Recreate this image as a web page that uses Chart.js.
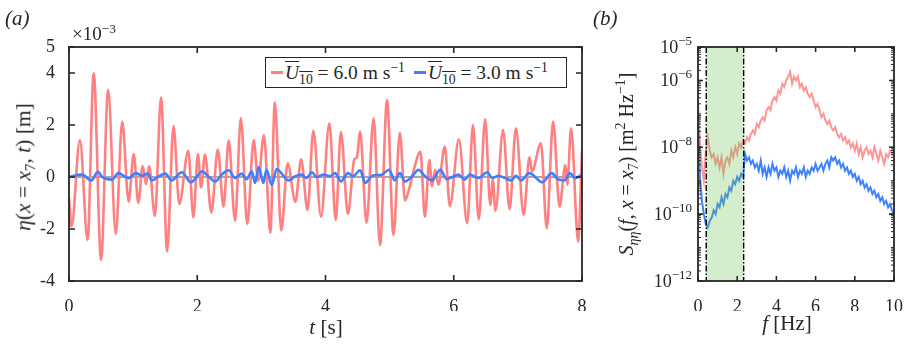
<!DOCTYPE html>
<html>
<head>
<meta charset="utf-8">
<script src="https://cdn.jsdelivr.net/npm/chart.js@4"></script>
<style>
  body { margin: 0; background: #fff; width: 911px; height: 345px; position: relative; overflow: hidden;
         font-family: 'Liberation Serif', 'Times New Roman', 'DejaVu Serif', serif; color: #262626; }
  canvas { position: absolute; top: 0; }
  .t { position: absolute; white-space: nowrap; font-size: 20px; line-height: 1; }
  .rot { transform: translate(-50%, -50%) rotate(-90deg); }
  .ctr { transform: translate(-50%, -50%); }
  sub, sup { font-size: 0.7em; line-height: 0; }
  .ov { text-decoration: overline; text-decoration-thickness: 1px; }
  #leg { position: absolute; left: 265px; top: 57px; width: 300px; height: 29px; border: 1.6px solid #262626;
         background: #fff; font-size: 19.5px; display: flex; align-items: center; white-space: nowrap; }
  .sw { display: inline-block; width: 12px; height: 2.6px; margin: 0 2px 0 5px; }
</style>
</head>
<body>
<canvas id="ca" width="600" height="345" style="left:0"></canvas>
<canvas id="cb" width="321" height="345" style="left:590px"></canvas>

<div class="t" style="left:5px;top:8px;font-size:21px"><i>(a)</i></div>
<div class="t" style="left:72px;top:24px;font-size:19px">×10<sup>−3</sup></div>
<div class="t rot" style="left:24px;top:167px;font-size:21.5px"><i>η</i>(<i>x</i> = <i>x</i><sub>7</sub>, <i>t</i>) [m]</div>
<div class="t ctr" style="left:326px;top:327px;font-size:21px"><i>t</i> [s]</div>
<div id="leg">
  <span class="sw" style="background:#ff8080"></span><span><span class="ov"><i>U</i><sub>10</sub></span> = 6.0 m s<sup>−1</sup></span>
  <span class="sw" style="background:#3d7fff;margin-left:9px"></span><span><span class="ov"><i>U</i><sub>10</sub></span> = 3.0 m s<sup>−1</sup></span>
</div>

<div class="t" style="left:593px;top:8px;font-size:21px"><i>(b)</i></div>
<div class="t rot" style="left:626px;top:164px"><i>S</i><sub><i>ηη</i></sub>(<i>f</i>, <i>x</i> = <i>x</i><sub>7</sub>) [m<sup>2</sup> Hz<sup>−1</sup>]</div>
<div class="t ctr" style="left:787px;top:323px;font-size:21px"><i>f</i> [Hz]</div>

<script>
// (a) surface elevation, units of 1e-3 m
const tRed = [0, 0.04, 0.17, 0.29, 0.385, 0.5, 0.61, 0.73, 0.83, 0.93, 1.01, 1.08, 1.15, 1.2, 1.25, 1.34, 1.435, 1.53, 1.63, 1.72,
  1.86, 1.94, 2.01, 2.06, 2.12, 2.22, 2.32, 2.41, 2.49, 2.59, 2.68, 2.78, 2.88, 2.95, 3.04, 3.14, 3.21, 3.31, 3.41, 3.53,
  3.62, 3.72, 3.81, 3.93, 4.06, 4.16, 4.24, 4.35, 4.45, 4.49, 4.54, 4.64, 4.75, 4.85, 4.96, 5.06, 5.16, 5.24, 5.3, 5.37,
  5.48, 5.55, 5.62, 5.66, 5.71, 5.76, 5.86, 5.94, 6.08, 6.21, 6.3, 6.39, 6.49, 6.57, 6.61, 6.65, 6.77, 6.87, 6.97, 7.09,
  7.18, 7.22, 7.36, 7.45, 7.55, 7.65, 7.74, 7.77, 7.83, 7.94, 8.0];
const etaRed = [-0.8, -1.9, 1.42, -2.42, 3.99, -3.19, 3.35, -2.19, 2.13, -0.95, 0.88, -0.99, 0.42, -0.27, 0.42, -1.5, 3.06, -2.86, 1.96, -1.04,
  1.01, -1.55, 0.88, -0.4, 0.86, -1.37, 1.06, -1.14, 1.4, -1.68, 2.26, -1.81, 1.42, -0.14, 1.6, -2.14, 2.86, -2.06, 0.53, -0.95,
  0.68, -1.27, 1.78, -1.53, 2.06, -1.65, 1.74, -1.42, 0.68, 0.75, 1.74, -1.76, 2.26, -2.62, 2.96, -2.23, 1.7, -0.9, -0.5, 0.2,
  0.97, -1.53, 0.65, -0.36, 0.28, -0.3, 1.17, -1.12, 1.45, -1.78, 2.0, -1.63, 2.22, -1.08, -0.1, -1.3, 1.81, -1.24, 1.87, -1.46,
  0.76, 0.22, 1.3, -1.97, 2.13, -1.14, 0.46, -0.3, 1.87, -2.49, 1.0];

const tBlue = [0, 0.2, 0.35, 0.45, 0.52, 0.67, 0.77, 0.93, 1.04, 1.14, 1.23, 1.29, 1.42, 1.5, 1.6, 1.76, 1.9, 2.02, 2.07, 2.17,
  2.28, 2.38, 2.49, 2.59, 2.69, 2.77, 2.85, 2.9, 2.96, 3.03, 3.08, 3.16, 3.24, 3.33, 3.42, 3.53, 3.63, 3.7, 3.79, 3.86,
  3.97, 4.07, 4.15, 4.24, 4.35, 4.43, 4.54, 4.62, 4.73, 4.88, 4.99, 5.08, 5.16, 5.24, 5.36, 5.45, 5.55, 5.66, 5.79, 5.89,
  5.98, 6.07, 6.17, 6.25, 6.39, 6.52, 6.6, 6.7, 6.8, 6.9, 6.97, 7.05, 7.18, 7.38, 7.53, 7.62, 7.73, 7.81, 7.89, 8.0];
const etaBlue = [0.0, 0.09, -0.13, 0.2, 0.0, -0.1, 0.15, -0.05, 0.15, 0.05, 0.13, -0.13, 0.05, 0.13, -0.13, 0.18, -0.2, 0.09, 0.22, 0.03,
  -0.17, 0.09, 0.26, -0.04, 0.13, -0.08, 0.22, -0.23, 0.38, -0.23, 0.28, -0.3, 0.31, 0.09, -0.13, 0.03, 0.09, -0.04, 0.18, 0.0,
  0.09, 0.03, 0.15, -0.17, 0.15, 0.03, 0.26, -0.23, 0.05, 0.09, 0.28, -0.13, 0.15, -0.17, 0.05, 0.28, 0.03, -0.13, 0.28, -0.08,
  0.0, 0.09, -0.1, 0.09, -0.04, 0.18, -0.04, 0.05, -0.04, -0.13, 0.05, -0.13, 0.15, -0.2, 0.15, -0.08, -0.13, 0.15, -0.04, 0.09];

const zeroT = [0, 8];
const zeroEta = [0, 0];

// (b) spectra
const freq = [0, 0.1, 0.2, 0.3, 0.4, 0.5, 0.6, 0.7, 0.8, 0.9, 1.0, 1.1, 1.2, 1.3, 1.4, 1.5, 1.6, 1.7, 1.8, 1.9,
  2.0, 2.1, 2.2, 2.3, 2.4, 2.5, 2.6, 2.7, 2.8, 2.9, 3.0, 3.1, 3.2, 3.3, 3.4, 3.5, 3.6, 3.7, 3.8, 3.9,
  4.0, 4.1, 4.2, 4.3, 4.4, 4.5, 4.6, 4.7, 4.8, 4.9, 5.0, 5.1, 5.2, 5.3, 5.4, 5.5, 5.6, 5.7, 5.8, 5.9,
  6.0, 6.1, 6.2, 6.3, 6.4, 6.5, 6.6, 6.7, 6.8, 6.9, 7.0, 7.1, 7.2, 7.3, 7.4, 7.5, 7.6, 7.7, 7.8, 7.9,
  8.0, 8.1, 8.2, 8.3, 8.4, 8.5, 8.6, 8.7, 8.8, 8.9, 9.0, 9.1, 9.2, 9.3, 9.4, 9.5, 9.6, 9.7, 9.8, 9.9, 10.0];
const specRed = [2.5e-7, 1.3e-8, 2.5e-9, 1.0e-9, 7.9e-9, 2.0e-8, 7.9e-9, 5.0e-9, 6.3e-9, 3.2e-9, 5.0e-9, 2.5e-9, 5.0e-9, 1.6e-9, 4.0e-9, 5.0e-9, 3.2e-9, 7.9e-9, 5.0e-9, 1.0e-8,
  6.3e-9, 1.3e-8, 1.0e-8, 1.6e-8, 1.3e-8, 2.0e-8, 1.6e-8, 2.5e-8, 3.2e-8, 2.5e-8, 5.0e-8, 4.0e-8, 6.3e-8, 7.9e-8, 6.3e-8, 1.3e-7, 1.6e-7, 1.3e-7, 2.5e-7, 3.2e-7,
  2.5e-7, 5.0e-7, 4.0e-7, 7.9e-7, 6.3e-7, 1.0e-6, 1.3e-6, 1.8e-6, 7.9e-7, 1.3e-6, 1.0e-6, 1.3e-6, 6.3e-7, 7.9e-7, 5.0e-7, 6.3e-7, 4.0e-7, 3.2e-7, 4.0e-7, 2.5e-7,
  1.6e-7, 2.0e-7, 1.3e-7, 7.9e-8, 1.0e-7, 6.3e-8, 5.0e-8, 6.3e-8, 4.0e-8, 3.2e-8, 4.0e-8, 2.5e-8, 2.0e-8, 2.5e-8, 1.6e-8, 2.0e-8, 1.3e-8, 1.6e-8, 1.0e-8, 1.3e-8,
  7.9e-9, 1.3e-8, 6.3e-9, 1.0e-8, 5.0e-9, 7.9e-9, 1.0e-8, 6.3e-9, 7.9e-9, 5.0e-9, 1.0e-8, 6.3e-9, 4.0e-9, 7.9e-9, 5.0e-9, 3.2e-9, 6.3e-9, 5.0e-9, 7.9e-9, 6.3e-9, 7.9e-9];
const specBlue = [6.3e-8, 1.3e-9, 2.5e-10, 1.0e-10, 5.0e-11, 4.0e-11, 6.3e-11, 7.9e-11, 1.3e-10, 1.0e-10, 2.0e-10, 1.6e-10, 3.2e-10, 2.0e-10, 4.0e-10, 3.2e-10, 6.3e-10, 5.0e-10, 1.0e-9, 7.9e-10,
  1.3e-9, 1.0e-9, 1.6e-9, 1.3e-9, 6.3e-9, 4.0e-9, 5.0e-9, 3.2e-9, 4.0e-9, 2.5e-9, 3.2e-9, 2.0e-9, 4.0e-9, 1.6e-9, 2.5e-9, 1.3e-9, 2.5e-9, 1.6e-9, 3.2e-9, 2.0e-9,
  2.5e-9, 1.3e-9, 2.0e-9, 1.6e-9, 2.5e-9, 1.3e-9, 2.0e-9, 1.0e-9, 2.0e-9, 1.6e-9, 2.5e-9, 1.3e-9, 2.0e-9, 1.6e-9, 2.5e-9, 1.3e-9, 2.0e-9, 1.6e-9, 2.5e-9, 2.0e-9,
  3.2e-9, 2.0e-9, 2.5e-9, 3.2e-9, 2.0e-9, 3.2e-9, 4.0e-9, 2.5e-9, 5.0e-9, 4.0e-9, 5.0e-9, 3.2e-9, 4.0e-9, 2.5e-9, 3.2e-9, 2.0e-9, 2.5e-9, 1.6e-9, 2.0e-9, 1.3e-9,
  1.6e-9, 1.0e-9, 1.3e-9, 7.9e-10, 1.0e-9, 6.3e-10, 7.9e-10, 5.0e-10, 6.3e-10, 4.0e-10, 5.0e-10, 3.2e-10, 4.0e-10, 2.5e-10, 3.2e-10, 2.0e-10, 2.5e-10, 1.6e-10, 2.0e-10, 1.3e-10, 1.0e-10];

// shaded frequency band
const bandLo = 0.42;
const bandHi = 2.33;

const etaTicks = [-4, -2, 0, 2, 4, 5];
const tTicks = [0, 2, 4, 6, 8];
const fTicks = [0, 2, 4, 6, 8, 10];
const sTicks = [1e-12, 1e-10, 1e-8, 1e-6, 1e-5];

const INK = '#262626';
const SERIF = "'Liberation Serif', 'Times New Roman', 'DejaVu Serif', serif";
const FONT = { family: SERIF, size: 18 };

const pts = (xs, ys) => xs.map((x, i) => ({ x, y: ys[i] }));
const setTicks = list => s => { s.ticks = list.map(v => ({ value: v })); };

// box + inward ticks, like matlab "box on"
const framePlugin = {
  id: 'frame',
  afterDraw(chart, args, opts) {
    const { ctx, chartArea: a, scales: { x, y } } = chart;
    const L = opts.len || 6;
    ctx.save();
    ctx.strokeStyle = INK;
    ctx.lineWidth = 1.6;
    ctx.beginPath();
    x.ticks.forEach(t => {
      const p = x.getPixelForValue(t.value);
      ctx.moveTo(p, a.bottom); ctx.lineTo(p, a.bottom - L);
      ctx.moveTo(p, a.top); ctx.lineTo(p, a.top + L);
    });
    y.ticks.forEach(t => {
      const p = y.getPixelForValue(t.value);
      ctx.moveTo(a.left, p); ctx.lineTo(a.left + L, p);
      ctx.moveTo(a.right, p); ctx.lineTo(a.right - L, p);
    });
    ctx.stroke();
    if (opts.minor) {
      ctx.lineWidth = 1;
      ctx.beginPath();
      for (let k = -12; k < -5; k++) {
        for (let m = 1; m < 10; m++) {
          const p = y.getPixelForValue(m * Math.pow(10, k));
          ctx.moveTo(a.left, p); ctx.lineTo(a.left + 3, p);
          ctx.moveTo(a.right, p); ctx.lineTo(a.right - 3, p);
        }
      }
      ctx.stroke();
    }
    ctx.lineWidth = 1.8;
    ctx.strokeRect(a.left, a.top, a.width, a.height);
    ctx.restore();
  }
};

const bandPlugin = {
  id: 'band',
  afterDatasetsDraw(chart) {
    const { ctx, chartArea: a, scales: { x } } = chart;
    const x0 = x.getPixelForValue(bandLo);
    const x1 = x.getPixelForValue(bandHi);
    ctx.save();
    ctx.fillStyle = 'rgba(110,195,90,0.3)';
    ctx.fillRect(x0, a.top, x1 - x0, a.height);
    ctx.setLineDash([6, 2, 1.5, 2]);
    ctx.strokeStyle = '#000';
    ctx.lineWidth = 1.4;
    ctx.beginPath();
    ctx.moveTo(x0, a.top); ctx.lineTo(x0, a.bottom);
    ctx.moveTo(x1, a.top); ctx.lineTo(x1, a.bottom);
    ctx.stroke();
    ctx.restore();
  }
};

// 10^n labels with a raised exponent
const expLabels = {
  id: 'expLabels',
  afterDraw(chart) {
    const { ctx, chartArea: a, scales: { y } } = chart;
    ctx.save();
    ctx.fillStyle = INK;
    ctx.textBaseline = 'alphabetic';
    y.ticks.forEach(t => {
      const p = y.getPixelForValue(t.value);
      const ex = '−' + Math.abs(Math.round(Math.log10(t.value)));
      ctx.font = '13px ' + SERIF;
      const w = ctx.measureText(ex).width;
      const right = a.left - 6;
      ctx.textAlign = 'left';
      ctx.fillText(ex, right - w, p - 2);
      ctx.font = '18px ' + SERIF;
      ctx.textAlign = 'right';
      ctx.fillText('10', right - w, p + 6);
    });
    ctx.restore();
  }
};

const common = {
  responsive: false,
  animation: false,
  events: [],
  elements: { point: { radius: 0 } },
};

new Chart(document.getElementById('ca'), {
  type: 'line',
  data: {
    datasets: [
      { data: pts(tBlue, etaBlue), borderColor: '#3d7fff', borderWidth: 2.6, order: 0, cubicInterpolationMode: 'monotone' },
      { data: pts(tRed, etaRed), borderColor: '#ff8080', borderWidth: 2.6, order: 1, cubicInterpolationMode: 'monotone' },
      { data: pts(zeroT, zeroEta), borderColor: 'rgba(130,130,130,0.7)', borderWidth: 2.2, order: 2 }
    ]
  },
  options: {
    ...common,
    layout: { padding: { left: 29, right: 18, top: 47, bottom: 34 } },
    plugins: { legend: { display: false }, tooltip: { enabled: false }, frame: { len: 6 } },
    scales: {
      x: {
        type: 'linear', min: 0, max: 8,
        afterBuildTicks: setTicks(tTicks),
        afterFit: s => { s.height = 30; },
        grid: { display: false }, border: { display: false },
        ticks: { padding: 7, color: INK, font: FONT, maxRotation: 0, autoSkip: false }
      },
      y: {
        type: 'linear', min: -4, max: 5,
        afterBuildTicks: setTicks(etaTicks),
        afterFit: s => { s.width = 40; },
        grid: { display: false }, border: { display: false },
        ticks: { padding: 6, color: INK, font: FONT, autoSkip: false }
      }
    }
  },
  plugins: [framePlugin]
});

new Chart(document.getElementById('cb'), {
  type: 'line',
  data: {
    datasets: [
      { data: pts(freq, specBlue), borderColor: '#3f82ff', borderWidth: 2, order: 0 },
      { data: pts(freq, specRed), borderColor: '#ff9696', borderWidth: 2, order: 1 }
    ]
  },
  options: {
    ...common,
    layout: { padding: { left: 58, right: 17, top: 47, bottom: 34 } },
    plugins: { legend: { display: false }, tooltip: { enabled: false }, frame: { len: 5, minor: true } },
    scales: {
      x: {
        type: 'linear', min: 0, max: 10,
        afterBuildTicks: setTicks(fTicks),
        afterFit: s => { s.height = 30; },
        grid: { display: false }, border: { display: false },
        ticks: { padding: 7, color: INK, font: FONT, maxRotation: 0, autoSkip: false }
      },
      y: {
        type: 'logarithmic', min: 1e-12, max: 1e-5,
        afterBuildTicks: setTicks(sTicks),
        afterFit: s => { s.width = 50; },
        grid: { display: false }, border: { display: false },
        ticks: { display: false }
      }
    }
  },
  plugins: [bandPlugin, framePlugin, expLabels]
});
</script>
</body>
</html>
